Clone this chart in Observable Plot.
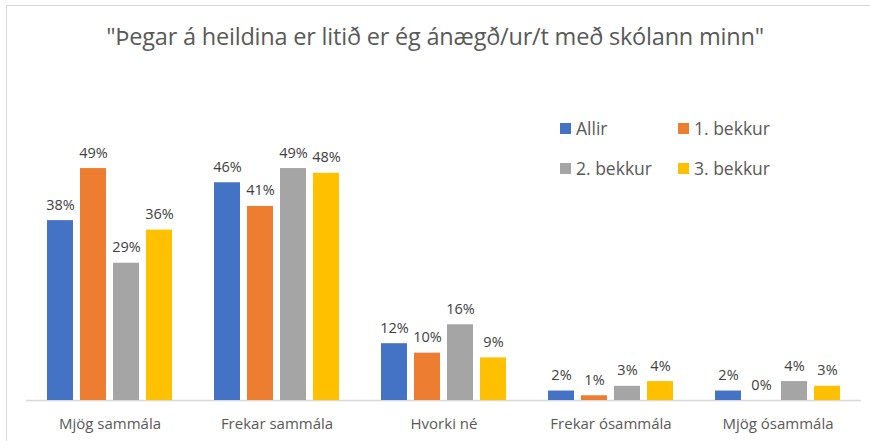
<!DOCTYPE html>
<html>
<head>
<meta charset="utf-8">
<script src="https://cdn.jsdelivr.net/npm/d3@7"></script>
<script src="https://cdn.jsdelivr.net/npm/@observablehq/plot@0.6"></script>
<style>
  html, body { margin: 0; padding: 0; background: #fff; }
  #wrap { position: relative; width: 870px; height: 441px; overflow: hidden; font-family: "Open Sans", sans-serif; }
  #frame { position: absolute; left: 6px; top: 5px; width: 900px; height: 500px; border-left: 1px solid #d9d9d9; border-top: 1px solid #d9d9d9; }
  #title { position: absolute; left: 0; top: 20px; width: 870px; text-align: center; font-size: 23.5px; color: #595959; letter-spacing: -0.2px; }
  #chart { position: absolute; left: 0; top: 75px; }
  .legend { position: absolute; font-size: 17.5px; color: #595959; display: flex; align-items: center; }
  .legend span.sw { display: inline-block; width: 11px; height: 11px; margin-right: 5px; }
</style>
</head>
<body>
<div id="wrap">
  <div id="frame"></div>
  <div id="title">"Þegar á heildina er litið er ég ánægð/ur/t með skólann minn"</div>
  <div id="chart"></div>
  <div id="legend"></div>
</div>
<script>
const categories = ["Mjög sammála", "Frekar sammála", "Hvorki né", "Frekar ósammála", "Mjög ósammála"];
const seriesNames = ["Allir", "1. bekkur", "2. bekkur", "3. bekkur"];
const colors = ["#4472C4", "#ED7D31", "#A5A5A5", "#FFC000"];
const allir    = [38, 46, 12, 2, 2];
const bekkur1  = [49, 41, 10, 1, 0];
const bekkur2  = [29, 49, 16, 3, 4];
const bekkur3  = [36, 48, 9, 4, 3];

const seriesValues = [allir, bekkur1, bekkur2, bekkur3];
const data = [];
categories.forEach((c, i) => {
  seriesNames.forEach((s, j) => {
    data.push({category: c, series: s, value: seriesValues[j][i]});
  });
});

const chart = Plot.plot({
  width: 870,
  height: 366,
  marginLeft: 25,
  marginRight: 8,
  marginTop: 41,
  marginBottom: 41,
  style: {fontFamily: "Open Sans, sans-serif", background: "transparent"},
  fx: {domain: categories, padding: 0, label: null},
  x: {domain: seriesNames, paddingInner: 0.2, paddingOuter: 0.6, axis: null},
  y: {domain: [0, 60], axis: null},
  color: {domain: seriesNames, range: colors},
  marks: [
    Plot.ruleY([0], {stroke: "#d9d9d9", strokeWidth: 1.5}),
    Plot.barY(data, {fx: "category", x: "series", y: "value", fill: "series"}),
    Plot.text(data, {fx: "category", x: "series", y: "value", text: d => d.value + "%", lineAnchor: "bottom", dy: -11, fontSize: 14.5, fill: "#404040"}),
    Plot.axisFx({anchor: "bottom", tickSize: 0, tickPadding: 18, fontSize: 15, color: "#595959", label: null})
  ]
});
document.getElementById("chart").appendChild(chart);

const legendPos = [[560, 116], [678, 116], [560, 156], [678, 156]];
const leg = document.getElementById("legend");
seriesNames.forEach((s, i) => {
  const d = document.createElement("div");
  d.className = "legend";
  d.style.left = legendPos[i][0] + "px";
  d.style.top = legendPos[i][1] + "px";
  d.innerHTML = `<span class="sw" style="background:${colors[i]}"></span>${s}`;
  leg.appendChild(d);
});
</script>
</body>
</html>
